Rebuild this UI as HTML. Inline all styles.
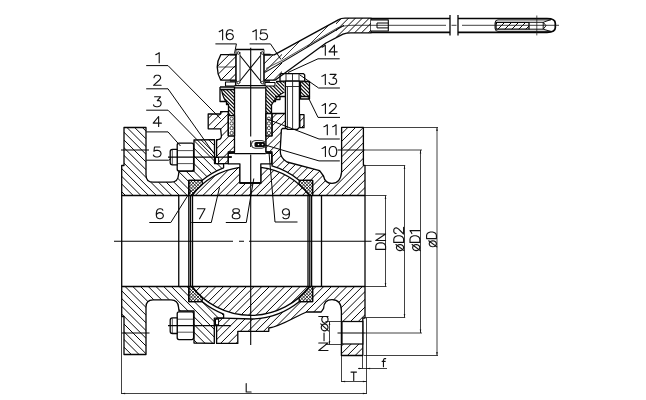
<!DOCTYPE html>
<html><head><meta charset="utf-8"><title>Ball valve</title>
<style>
html,body{margin:0;padding:0;background:#fff;}
body{width:646px;height:400px;overflow:hidden;font-family:"Liberation Sans",sans-serif;}
svg{display:block}
.o{fill:none;stroke:#050505;stroke-width:1.3;stroke-linejoin:round;stroke-linecap:butt}
.t{fill:none;stroke:#1a1a1a;stroke-width:0.75}
.d{fill:none;stroke:#111;stroke-width:0.8}
.w{fill:#fff;stroke:#050505;stroke-width:1.3;stroke-linejoin:round}
text{font-family:"Liberation Sans",sans-serif;fill:#1a1a1a;}
.lb{font-size:13px}
</style></head><body>
<svg width="646" height="400" viewBox="0 0 646 400">
<rect width="646" height="400" fill="#fff"/>

<clipPath id="c1"><path d="M121.7,195.5 L121.7,165.5 L124,165.5 L124,127.5 L146,127.5 L146,175 Q146,182.2 153,182.2 L171,182.2 Q178,182.2 178.5,175 L179,171 L194,171 L194,140 L214.5,139.6 L214.5,163.6 L223.6,163.6 L223.6,167.86 A78.0,78.0 0 0 0 202,180.4 L188.8,180.4 L188.8,195.5 Z"/></clipPath>
<path clip-path="url(#c1)" d="M45.76,123.5L121.76,199.5M53.48,123.5L129.48,199.5M61.2,123.5L137.2,199.5M68.92,123.5L144.92,199.5M76.64,123.5L152.64,199.5M84.36,123.5L160.36,199.5M92.08,123.5L168.08,199.5M99.8,123.5L175.8,199.5M107.52,123.5L183.52,199.5M115.24,123.5L191.24,199.5M122.96,123.5L198.96,199.5M130.68,123.5L206.68,199.5M138.4,123.5L214.4,199.5M146.12,123.5L222.12,199.5M153.84,123.5L229.84,199.5M161.56,123.5L237.56,199.5M169.28,123.5L245.28,199.5M177,123.5L253,199.5M184.72,123.5L260.72,199.5M192.44,123.5L268.44,199.5M200.16,123.5L276.16,199.5M207.88,123.5L283.88,199.5M215.6,123.5L291.6,199.5M223.32,123.5L299.32,199.5" fill="none" stroke="#0a0a0a" stroke-width="1.0"/>
<path class="o" d="M121.7,195.5 L121.7,165.5 L124,165.5 L124,127.5 L146,127.5 L146,175 Q146,182.2 153,182.2 L171,182.2 Q178,182.2 178.5,175 L179,171 L194,171 L194,140 L214.5,139.6 L214.5,163.6 L223.6,163.6 L223.6,167.86 A78.0,78.0 0 0 0 202,180.4 L188.8,180.4 L188.8,195.5 Z"/>
<clipPath id="c2"><path d="M121.7,286.5 L121.7,316.5 L124,316.5 L124,354.5 L146,354.5 L146,307 Q146,299.8 153,299.8 L171,299.8 Q178,299.8 178.5,307 L179,311 L194,311 L194,343 L214.3,343.4 L214.3,318.2 L223.6,318.2 L223.6,314.14 A78.0,78.0 0 0 1 202,301.6 L188.8,301.6 L188.8,286.5 Z"/></clipPath>
<path clip-path="url(#c2)" d="M43.9,282.5L119.9,358.5M51.62,282.5L127.62,358.5M59.34,282.5L135.34,358.5M67.06,282.5L143.06,358.5M74.78,282.5L150.78,358.5M82.5,282.5L158.5,358.5M90.22,282.5L166.22,358.5M97.94,282.5L173.94,358.5M105.66,282.5L181.66,358.5M113.38,282.5L189.38,358.5M121.1,282.5L197.1,358.5M128.82,282.5L204.82,358.5M136.54,282.5L212.54,358.5M144.26,282.5L220.26,358.5M151.98,282.5L227.98,358.5M159.7,282.5L235.7,358.5M167.42,282.5L243.42,358.5M175.14,282.5L251.14,358.5M182.86,282.5L258.86,358.5M190.58,282.5L266.58,358.5M198.3,282.5L274.3,358.5M206.02,282.5L282.02,358.5M213.74,282.5L289.74,358.5M221.46,282.5L297.46,358.5" fill="none" stroke="#0a0a0a" stroke-width="1.0"/>
<path class="o" d="M121.7,286.5 L121.7,316.5 L124,316.5 L124,354.5 L146,354.5 L146,307 Q146,299.8 153,299.8 L171,299.8 Q178,299.8 178.5,307 L179,311 L194,311 L194,343 L214.3,343.4 L214.3,318.2 L223.6,318.2 L223.6,314.14 A78.0,78.0 0 0 1 202,301.6 L188.8,301.6 L188.8,286.5 Z"/>
<clipPath id="c3"><path d="M188.8,180.4 L202,180.4 L202.5,184.32 A74.4,74.4 0 0 0 191.83,195.5 L188.8,195.5 Z"/></clipPath>
<path clip-path="url(#c3)" d="M186.6,176.4L163.5,199.5M189.9,176.4L166.8,199.5M193.2,176.4L170.1,199.5M196.5,176.4L173.4,199.5M199.8,176.4L176.7,199.5M203.1,176.4L180,199.5M206.4,176.4L183.3,199.5M209.7,176.4L186.6,199.5M213,176.4L189.9,199.5M216.3,176.4L193.2,199.5M219.6,176.4L196.5,199.5M222.9,176.4L199.8,199.5M226.2,176.4L203.1,199.5M229.5,176.4L206.4,199.5M163.2,176.4L186.3,199.5M166.5,176.4L189.6,199.5M169.8,176.4L192.9,199.5M173.1,176.4L196.2,199.5M176.4,176.4L199.5,199.5M179.7,176.4L202.8,199.5M183,176.4L206.1,199.5M186.3,176.4L209.4,199.5M189.6,176.4L212.7,199.5M192.9,176.4L216,199.5M196.2,176.4L219.3,199.5M199.5,176.4L222.6,199.5M202.8,176.4L225.9,199.5M206.1,176.4L229.2,199.5" fill="none" stroke="#0a0a0a" stroke-width="0.8"/>
<path class="o" d="M188.8,180.4 L202,180.4 L202.5,184.32 A74.4,74.4 0 0 0 191.83,195.5 L188.8,195.5 Z"/>
<clipPath id="c4"><path d="M188.8,301.6 L202,301.6 L202.5,297.68 A74.4,74.4 0 0 1 191.83,286.5 L188.8,286.5 Z"/></clipPath>
<path clip-path="url(#c4)" d="M186.1,282.5L163,305.6M189.4,282.5L166.3,305.6M192.7,282.5L169.6,305.6M196,282.5L172.9,305.6M199.3,282.5L176.2,305.6M202.6,282.5L179.5,305.6M205.9,282.5L182.8,305.6M209.2,282.5L186.1,305.6M212.5,282.5L189.4,305.6M215.8,282.5L192.7,305.6M219.1,282.5L196,305.6M222.4,282.5L199.3,305.6M225.7,282.5L202.6,305.6M229,282.5L205.9,305.6M163.7,282.5L186.8,305.6M167,282.5L190.1,305.6M170.3,282.5L193.4,305.6M173.6,282.5L196.7,305.6M176.9,282.5L200,305.6M180.2,282.5L203.3,305.6M183.5,282.5L206.6,305.6M186.8,282.5L209.9,305.6M190.1,282.5L213.2,305.6M193.4,282.5L216.5,305.6M196.7,282.5L219.8,305.6M200,282.5L223.1,305.6M203.3,282.5L226.4,305.6" fill="none" stroke="#0a0a0a" stroke-width="0.8"/>
<path class="o" d="M188.8,301.6 L202,301.6 L202.5,297.68 A74.4,74.4 0 0 1 191.83,286.5 L188.8,286.5 Z"/>
<clipPath id="c5"><path d="M312.6,180.4 L299.4,180.4 L298.9,184.32 A74.4,74.4 0 0 1 309.57,195.5 L312.6,195.5 Z"/></clipPath>
<path clip-path="url(#c5)" d="M295.5,176.4L272.4,199.5M298.8,176.4L275.7,199.5M302.1,176.4L279,199.5M305.4,176.4L282.3,199.5M308.7,176.4L285.6,199.5M312,176.4L288.9,199.5M315.3,176.4L292.2,199.5M318.6,176.4L295.5,199.5M321.9,176.4L298.8,199.5M325.2,176.4L302.1,199.5M328.5,176.4L305.4,199.5M331.8,176.4L308.7,199.5M335.1,176.4L312,199.5M338.4,176.4L315.3,199.5M272.1,176.4L295.2,199.5M275.4,176.4L298.5,199.5M278.7,176.4L301.8,199.5M282,176.4L305.1,199.5M285.3,176.4L308.4,199.5M288.6,176.4L311.7,199.5M291.9,176.4L315,199.5M295.2,176.4L318.3,199.5M298.5,176.4L321.6,199.5M301.8,176.4L324.9,199.5M305.1,176.4L328.2,199.5M308.4,176.4L331.5,199.5M311.7,176.4L334.8,199.5M315,176.4L338.1,199.5" fill="none" stroke="#0a0a0a" stroke-width="0.8"/>
<path class="o" d="M312.6,180.4 L299.4,180.4 L298.9,184.32 A74.4,74.4 0 0 1 309.57,195.5 L312.6,195.5 Z"/>
<clipPath id="c6"><path d="M312.6,301.6 L299.4,301.6 L298.9,297.68 A74.4,74.4 0 0 0 309.57,286.5 L312.6,286.5 Z"/></clipPath>
<path clip-path="url(#c6)" d="M295,282.5L271.9,305.6M298.3,282.5L275.2,305.6M301.6,282.5L278.5,305.6M304.9,282.5L281.8,305.6M308.2,282.5L285.1,305.6M311.5,282.5L288.4,305.6M314.8,282.5L291.7,305.6M318.1,282.5L295,305.6M321.4,282.5L298.3,305.6M324.7,282.5L301.6,305.6M328,282.5L304.9,305.6M331.3,282.5L308.2,305.6M334.6,282.5L311.5,305.6M337.9,282.5L314.8,305.6M272.6,282.5L295.7,305.6M275.9,282.5L299,305.6M279.2,282.5L302.3,305.6M282.5,282.5L305.6,305.6M285.8,282.5L308.9,305.6M289.1,282.5L312.2,305.6M292.4,282.5L315.5,305.6M295.7,282.5L318.8,305.6M299,282.5L322.1,305.6M302.3,282.5L325.4,305.6M305.6,282.5L328.7,305.6M308.9,282.5L332,305.6M312.2,282.5L335.3,305.6M315.5,282.5L338.6,305.6" fill="none" stroke="#0a0a0a" stroke-width="0.8"/>
<path class="o" d="M312.6,301.6 L299.4,301.6 L298.9,297.68 A74.4,74.4 0 0 0 309.57,286.5 L312.6,286.5 Z"/>
<clipPath id="c7"><path d="M191.83,195.5 A74.4,74.4 0 0 1 239.9,167.39 L239.9,183.1 L260.8,183.1 L260.8,167.29 A74.4,74.4 0 0 1 309.57,195.5 Z"/></clipPath>
<path clip-path="url(#c7)" d="M189.16,163.29L152.95,199.5M196.81,163.29L160.6,199.5M204.46,163.29L168.25,199.5M212.11,163.29L175.9,199.5M219.76,163.29L183.55,199.5M227.41,163.29L191.2,199.5M235.06,163.29L198.85,199.5M242.71,163.29L206.5,199.5M250.36,163.29L214.15,199.5M258.01,163.29L221.8,199.5M265.66,163.29L229.45,199.5M273.31,163.29L237.1,199.5M280.96,163.29L244.75,199.5M288.61,163.29L252.4,199.5M296.26,163.29L260.05,199.5M303.91,163.29L267.7,199.5M311.56,163.29L275.35,199.5M319.21,163.29L283,199.5M326.86,163.29L290.65,199.5M334.51,163.29L298.3,199.5M342.16,163.29L305.95,199.5" fill="none" stroke="#0a0a0a" stroke-width="1.0"/>
<path class="o" d="M191.83,195.5 A74.4,74.4 0 0 1 239.9,167.39 L239.9,183.1 L260.8,183.1 L260.8,167.29 A74.4,74.4 0 0 1 309.57,195.5 Z"/>
<clipPath id="c8"><path d="M191.83,286.5 A74.4,74.4 0 0 0 309.57,286.5 Z"/></clipPath>
<path clip-path="url(#c8)" d="M189.35,282.5L152.45,319.4M197,282.5L160.1,319.4M204.65,282.5L167.75,319.4M212.3,282.5L175.4,319.4M219.95,282.5L183.05,319.4M227.6,282.5L190.7,319.4M235.25,282.5L198.35,319.4M242.9,282.5L206,319.4M250.55,282.5L213.65,319.4M258.2,282.5L221.3,319.4M265.85,282.5L228.95,319.4M273.5,282.5L236.6,319.4M281.15,282.5L244.25,319.4M288.8,282.5L251.9,319.4M296.45,282.5L259.55,319.4M304.1,282.5L267.2,319.4M311.75,282.5L274.85,319.4M319.4,282.5L282.5,319.4M327.05,282.5L290.15,319.4M334.7,282.5L297.8,319.4M342.35,282.5L305.45,319.4M350,282.5L313.1,319.4" fill="none" stroke="#0a0a0a" stroke-width="1.0"/>
<path class="o" d="M191.83,286.5 A74.4,74.4 0 0 0 309.57,286.5 Z"/>
<clipPath id="c9"><path d="M208.2,114 L220.6,114 L220.6,111.7 L228.3,111.7 L228.3,136 L235,136 L235,152 L228.3,152 L228.3,163.6 L216.6,163.6 L216.6,139.6 L217.5,139.6 Q221.4,139.6 221.4,136 L220.6,128.8 L208.2,128.8 Z"/></clipPath>
<path clip-path="url(#c9)" d="M211.22,107.7L151.32,167.6M218.94,107.7L159.04,167.6M226.66,107.7L166.76,167.6M234.38,107.7L174.48,167.6M242.1,107.7L182.2,167.6M249.82,107.7L189.92,167.6M257.54,107.7L197.64,167.6M265.26,107.7L205.36,167.6M272.98,107.7L213.08,167.6M280.7,107.7L220.8,167.6M288.42,107.7L228.52,167.6M296.14,107.7L236.24,167.6" fill="none" stroke="#0a0a0a" stroke-width="1.0"/>
<path class="o" d="M208.2,114 L220.6,114 L220.6,111.7 L228.3,111.7 L228.3,136 L235,136 L235,152 L228.3,152 L228.3,163.6 L216.6,163.6 L216.6,139.6 L217.5,139.6 Q221.4,139.6 221.4,136 L220.6,128.8 L208.2,128.8 Z"/>
<clipPath id="c10"><path d="M272,113.5 L285.7,113.5 L285.7,128.5 L282.5,128.5 L281.4,129.6 L280.2,150 Q280,158 287,162 L319.6,170.6 L323.5,176 Q325,183.4 332,183.4 Q340.5,183.4 341.6,172 L341.6,127.3 L363.4,127.3 L363.4,165.3 L365,165.3 L365,195.5 L312.6,195.5 L312.6,180.4 L299.4,180.4 A78.0,78.0 0 0 0 272,165.96 L272,152 L265.7,152 L265.7,136 L272,136 Z"/></clipPath>
<path clip-path="url(#c10)" d="M265.46,109.5L175.46,199.5M273.18,109.5L183.18,199.5M280.9,109.5L190.9,199.5M288.62,109.5L198.62,199.5M296.34,109.5L206.34,199.5M304.06,109.5L214.06,199.5M311.78,109.5L221.78,199.5M319.5,109.5L229.5,199.5M327.22,109.5L237.22,199.5M334.94,109.5L244.94,199.5M342.66,109.5L252.66,199.5M350.38,109.5L260.38,199.5M358.1,109.5L268.1,199.5M365.82,109.5L275.82,199.5M373.54,109.5L283.54,199.5M381.26,109.5L291.26,199.5M388.98,109.5L298.98,199.5M396.7,109.5L306.7,199.5M404.42,109.5L314.42,199.5M412.14,109.5L322.14,199.5M419.86,109.5L329.86,199.5M427.58,109.5L337.58,199.5M435.3,109.5L345.3,199.5M443.02,109.5L353.02,199.5M450.74,109.5L360.74,199.5M458.46,109.5L368.46,199.5" fill="none" stroke="#0a0a0a" stroke-width="1.0"/>
<path class="o" d="M272,113.5 L285.7,113.5 L285.7,128.5 L282.5,128.5 L281.4,129.6 L280.2,150 Q280,158 287,162 L319.6,170.6 L323.5,176 Q325,183.4 332,183.4 Q340.5,183.4 341.6,172 L341.6,127.3 L363.4,127.3 L363.4,165.3 L365,165.3 L365,195.5 L312.6,195.5 L312.6,180.4 L299.4,180.4 A78.0,78.0 0 0 0 272,165.96 L272,152 L265.7,152 L265.7,136 L272,136 Z"/>
<clipPath id="c11"><path d="M299.8,114.7 L304,114.7 L304,127.7 L299.8,127.7 Z"/></clipPath>
<path clip-path="url(#c11)" d="M302.86,110.7L281.86,131.7M310.58,110.7L289.58,131.7M318.3,110.7L297.3,131.7M326.02,110.7L305.02,131.7" fill="none" stroke="#0a0a0a" stroke-width="1.0"/>
<path class="o" d="M299.8,114.7 L304,114.7 L304,127.7 L299.8,127.7 Z"/>
<clipPath id="c12"><path d="M216.6,343.4 L237.8,343.4 L237.8,331.3 L268.8,331.3 L268.8,328 C281,326.5 296,316 306.5,312 L321.2,312 L323.6,308.3 Q324,299.7 332,299.7 Q341.4,299.7 341.4,311 L341.4,355.5 L362.8,355.5 L362.8,318 L365,318 L365,286.5 L312.6,286.5 L312.6,301.6 L299.4,301.6 A78.0,78.0 0 0 1 252,318.99 L223.6,318.2 L216.6,318.2 Z"/></clipPath>
<path clip-path="url(#c12)" d="M219.7,282.5L142.7,359.5M227.42,282.5L150.42,359.5M235.14,282.5L158.14,359.5M242.86,282.5L165.86,359.5M250.58,282.5L173.58,359.5M258.3,282.5L181.3,359.5M266.02,282.5L189.02,359.5M273.74,282.5L196.74,359.5M281.46,282.5L204.46,359.5M289.18,282.5L212.18,359.5M296.9,282.5L219.9,359.5M304.62,282.5L227.62,359.5M312.34,282.5L235.34,359.5M320.06,282.5L243.06,359.5M327.78,282.5L250.78,359.5M335.5,282.5L258.5,359.5M343.22,282.5L266.22,359.5M350.94,282.5L273.94,359.5M358.66,282.5L281.66,359.5M366.38,282.5L289.38,359.5M374.1,282.5L297.1,359.5M381.82,282.5L304.82,359.5M389.54,282.5L312.54,359.5M397.26,282.5L320.26,359.5M404.98,282.5L327.98,359.5M412.7,282.5L335.7,359.5M420.42,282.5L343.42,359.5M428.14,282.5L351.14,359.5M435.86,282.5L358.86,359.5M443.58,282.5L366.58,359.5" fill="none" stroke="#0a0a0a" stroke-width="1.0"/>
<path class="o" d="M216.6,343.4 L237.8,343.4 L237.8,331.3 L268.8,331.3 L268.8,328 C281,326.5 296,316 306.5,312 L321.2,312 L323.6,308.3 Q324,299.7 332,299.7 Q341.4,299.7 341.4,311 L341.4,355.5 L362.8,355.5 L362.8,318 L365,318 L365,286.5 L312.6,286.5 L312.6,301.6 L299.4,301.6 A78.0,78.0 0 0 1 252,318.99 L223.6,318.2 L216.6,318.2 Z"/>
<rect x="342" y="321.5" width="20.8" height="22.5" fill="#fff" stroke="#0a0a0a" stroke-width="1.25"/>
<rect x="215.5" y="319.2" width="3.1" height="5.6" fill="#fff" stroke="#050505" stroke-width="1"/>
<rect x="215.5" y="157.5" width="3.1" height="6" fill="#fff" stroke="#050505" stroke-width="1"/>
<line class="o" x1="178.75" y1="195.5" x2="178.75" y2="286.5"/>
<line class="o" x1="188.8" y1="195.5" x2="188.8" y2="286.5"/>
<line class="o" x1="190.5" y1="195.5" x2="190.5" y2="286.5"/>
<line class="o" x1="192.5" y1="195.5" x2="192.5" y2="286.5"/>
<line class="o" x1="308" y1="195.5" x2="308" y2="286.5"/>
<line class="o" x1="309.8" y1="195.5" x2="309.8" y2="286.5"/>
<line class="o" x1="311.6" y1="195.5" x2="311.6" y2="286.5"/>
<line class="o" x1="321.5" y1="195.5" x2="321.5" y2="286.5"/>
<line class="o" x1="121.7" y1="195.5" x2="121.7" y2="286.5"/>
<line class="o" x1="365" y1="195.5" x2="365" y2="286.5"/>
<path class="w" d="M225.5,82 H235.5 V86 H225.5 Z M265,82.5 H275 V86 H265 Z" style="stroke-width:1.1"/>
<path d="M236,49.5 L264,49.5 L264,86 L265.8,87 L265.8,152 L271.7,153.7 L271.7,163.8 L260.8,163.8 L260.8,183.1 L239.9,183.1 L239.9,163.8 L228.3,163.8 L228.3,153.7 L234.5,152 L234.5,87 L236,86 Z" fill="#fff"/>
<path class="o" d="M236,49.5 H264 M234.5,87 V152 L228.3,153.7 V163.8 H239.9 V183.1 H260.8 V163.8 H271.7 V153.7 L265.8,152 V87"/>
<path class="t" d="M236,49.5 V86 M264,49.5 V86 M240,52 V83 M260.6,52 V83" style="stroke-width:0.85"/>
<rect x="228.6" y="151.4" width="6.4" height="2.5" fill="#0a0a0a"/>
<rect x="265.7" y="151.4" width="6.4" height="2.5" fill="#0a0a0a"/>
<path class="o" d="M240,55.5 L260.6,81 M260.6,55.5 L240,81" style="stroke-width:1.1"/>
<rect x="240" y="182" width="20.8" height="1.8" fill="#0a0a0a"/>
<path class="o" d="M228.3,157 H232 M234.5,153.7 H265.8"/>
<path class="o" d="M234.5,85.7 H265.8 M234.5,87.9 H265.8" style="stroke-width:1.2"/>
<rect x="251.5" y="140.6" width="14" height="7.6" rx="3.5" fill="#fff" stroke="#0a0a0a" stroke-width="0.9"/>
<rect x="254.5" y="142" width="10.5" height="5" rx="1.5" fill="#0a0a0a"/>
<circle cx="258.5" cy="144.5" r="0.8" fill="#fff"/><circle cx="262.5" cy="144.5" r="0.8" fill="#fff"/>
<clipPath id="c13"><path d="M221.5,89.5 L234.5,89.5 L234.5,115.6 L228.5,115.6 L228.5,105 Q223,99 221.5,89.5 Z"/></clipPath>
<path clip-path="url(#c13)" d="M186.3,85.5L220.4,119.6M189.9,85.5L224,119.6M193.5,85.5L227.6,119.6M197.1,85.5L231.2,119.6M200.7,85.5L234.8,119.6M204.3,85.5L238.4,119.6M207.9,85.5L242,119.6M211.5,85.5L245.6,119.6M215.1,85.5L249.2,119.6M218.7,85.5L252.8,119.6M222.3,85.5L256.4,119.6M225.9,85.5L260,119.6M229.5,85.5L263.6,119.6M233.1,85.5L267.2,119.6M236.7,85.5L270.8,119.6" fill="none" stroke="#0a0a0a" stroke-width="1.15"/>
<path class="o" d="M220,87 H234.5 M220,87 V101.5 H226.5 V104.5 H228.5 V115.6 H234.5 M220,89.5 H234.5 M221.5,89.5 Q223,99 228.5,105"/>
<clipPath id="c14"><path d="M265.8,86 L276,86 L276,81.5 L284.5,81.5 L284.5,92 Q276,96 271.5,105 L271.5,113.5 L265.8,113.5 Z"/></clipPath>
<path clip-path="url(#c14)" d="M225.1,77.5L265.1,117.5M228.7,77.5L268.7,117.5M232.3,77.5L272.3,117.5M235.9,77.5L275.9,117.5M239.5,77.5L279.5,117.5M243.1,77.5L283.1,117.5M246.7,77.5L286.7,117.5M250.3,77.5L290.3,117.5M253.9,77.5L293.9,117.5M257.5,77.5L297.5,117.5M261.1,77.5L301.1,117.5M264.7,77.5L304.7,117.5M268.3,77.5L308.3,117.5M271.9,77.5L311.9,117.5M275.5,77.5L315.5,117.5M279.1,77.5L319.1,117.5M282.7,77.5L322.7,117.5M286.3,77.5L326.3,117.5" fill="none" stroke="#0a0a0a" stroke-width="1.15"/>
<path class="o" d="M276,81.5 H284.5 M271.5,113.5 V105 Q276,96 284.5,92 M265.8,113.5 H271.5 M275,96.5 H285 M280,96.5 V99.5 H275.5 V101.5 H273"/>
<clipPath id="c15"><path d="M300.5,81.5 L309.5,81.5 L309.5,96.5 L300.5,96.5 Z"/></clipPath>
<path clip-path="url(#c15)" d="M275.5,77.5L298.5,100.5M279.1,77.5L302.1,100.5M282.7,77.5L305.7,100.5M286.3,77.5L309.3,100.5M289.9,77.5L312.9,100.5M293.5,77.5L316.5,100.5M297.1,77.5L320.1,100.5M300.7,77.5L323.7,100.5M304.3,77.5L327.3,100.5M307.9,77.5L330.9,100.5M311.5,77.5L334.5,100.5" fill="none" stroke="#0a0a0a" stroke-width="1.15"/>
<path class="o" d="M300.5,81.5 L309.5,81.5 L309.5,96.5 L300.5,96.5 Z"/>
<path class="o" d="M300.5,96.5 V99 H309.5 V96.5"/>
<circle cx="231.6" cy="118.7" r="1.65" fill="#fff" stroke="#0a0a0a" stroke-width="0.75"/>
<circle cx="268.9" cy="118.7" r="1.65" fill="#fff" stroke="#0a0a0a" stroke-width="0.75"/>
<circle cx="231.6" cy="123.4" r="1.65" fill="#fff" stroke="#0a0a0a" stroke-width="0.75"/>
<circle cx="268.9" cy="123.4" r="1.65" fill="#fff" stroke="#0a0a0a" stroke-width="0.75"/>
<circle cx="231.6" cy="128.1" r="1.65" fill="#fff" stroke="#0a0a0a" stroke-width="0.75"/>
<circle cx="268.9" cy="128.1" r="1.65" fill="#fff" stroke="#0a0a0a" stroke-width="0.75"/>
<circle cx="231.6" cy="133.0" r="1.65" fill="#fff" stroke="#0a0a0a" stroke-width="0.75"/>
<circle cx="268.9" cy="133.0" r="1.65" fill="#fff" stroke="#0a0a0a" stroke-width="0.75"/>
<path class="o" d="M228.3,115.6 V136 M234.5,115.6 V136 M265.8,113.5 V136 M272,113.5 V136"/>
<path class="w" d="M281,73.6 L303.5,73.6 L304.7,75 L304.7,81.2 L280,81.2 L280,75 Z"/>
<path class="w" d="M285.4,81.2 L299.4,81.2 L299.4,127.4 L297.6,129.3 L287.2,129.3 L285.4,127.4 Z"/>
<path class="t" d="M286,73.6 V81.2 M292.5,73.6 V81.2 M299,73.6 V81.2 M287.4,86.5 V128.5 M292.6,81.2 V128.5 M285.4,86.5 H299.4" style="stroke-width:0.9"/>
<path class="w" d="M179,143.2 L191.8,143.2 Q193.6,143.2 193.6,145.2 L193.6,169 Q193.6,171 191.8,171 L179,171 Q177.2,171 177.2,169 L177.2,145.2 Q177.2,143.2 179,143.2 Z"/>
<path class="t" d="M177.2,150.6 H193.6 M177.2,163.6 H193.6"/>
<path class="w" d="M177.2,149.3 L172.5,149.3 Q170.2,149.3 170.2,151.6 L170.2,162.6 Q170.2,164.9 172.5,164.9 L177.2,164.9 Z"/>
<path class="t" d="M172.3,149.6 V164.6"/>
<path class="o" d="M168,157.1 H231"/>
<path class="w" d="M179,311.8 L191.8,311.8 Q193.6,311.8 193.6,313.8 L193.6,337.6 Q193.6,339.6 191.8,339.6 L179,339.6 Q177.2,339.6 177.2,337.6 L177.2,313.8 Q177.2,311.8 179,311.8 Z"/>
<path class="t" d="M177.2,319.2 H193.6 M177.2,332.2 H193.6"/>
<path class="w" d="M177.2,317.9 L172.5,317.9 Q170.2,317.9 170.2,320.2 L170.2,331.2 Q170.2,333.5 172.5,333.5 L177.2,333.5 Z"/>
<path class="t" d="M172.3,318.2 V333.2"/>
<path class="o" d="M168,325.7 H231"/>
<clipPath id="c16"><path d="M235.9,54.6 L220.8,54.6 Q213.6,67 220.8,80.2 L235.9,80.2 Z"/></clipPath>
<path clip-path="url(#c16)" d="M216,50.6L182.4,84.2M224.6,50.6L191,84.2M233.2,50.6L199.6,84.2M241.8,50.6L208.2,84.2M250.4,50.6L216.8,84.2M259,50.6L225.4,84.2M267.6,50.6L234,84.2" fill="none" stroke="#0a0a0a" stroke-width="1.0"/>
<path class="o" d="M235.9,54.6 L220.8,54.6 Q213.6,67 220.8,80.2 L235.9,80.2 Z"/>
<clipPath id="c17"><path d="M264,54.6 L274.2,54.9 L282,50.5 L282,75 L275,80.2 L264,80.2 Z"/></clipPath>
<path clip-path="url(#c17)" d="M264.1,46.5L226.4,84.2M272.7,46.5L235,84.2M281.3,46.5L243.6,84.2M289.9,46.5L252.2,84.2M298.5,46.5L260.8,84.2M307.1,46.5L269.4,84.2M315.7,46.5L278,84.2" fill="none" stroke="#0a0a0a" stroke-width="1.0"/>
<clipPath id="c18"><path d="M336,21 L338.7,19.6 Q341,18.1 345,18.1 L371,18.1 L371,32.8 L351,32.8 Q346.5,32.8 343,34.2 L336,37.8 Z"/></clipPath>
<path clip-path="url(#c18)" d="M338.8,14.1L311.1,41.8M345.7,14.1L318,41.8M352.6,14.1L324.9,41.8M359.5,14.1L331.8,41.8M366.4,14.1L338.7,41.8M373.3,14.1L345.6,41.8M380.2,14.1L352.5,41.8M387.1,14.1L359.4,41.8M394,14.1L366.3,41.8M400.9,14.1L373.2,41.8" fill="none" stroke="#0a0a0a" stroke-width="1.0"/>
<clipPath id="c19"><path d="M282,50.5 L336,21 L336,30.1 L282,62.3 Z"/></clipPath>
<path clip-path="url(#c19)" d="M285,17L235.7,66.3M298,17L248.7,66.3M311,17L261.7,66.3M324,17L274.7,66.3M337,17L287.7,66.3M350,17L300.7,66.3M363,17L313.7,66.3M376,17L326.7,66.3M389,17L339.7,66.3" fill="none" stroke="#0a0a0a" stroke-width="0.8"/>
<path class="o" d="M264,54.6 L274.2,54.9 L338.7,19.6 Q341,18.1 345,18.1 L371,18.1 L371,32.8 L351,32.8 Q346.5,32.8 343,34.2 L326,43 L275,80.2 L264,80.2 Z"/>
<path class="o" d="M265,72.4 L344,25.3" style="stroke-width:1.05"/>
<path class="w" d="M371,19.9 H388.3 V31 H371" style="stroke-width:1.1"/>
<path class="o" d="M377,23 H388.3 M377,27.9 H388.3 M377,23 V27.9" style="stroke-width:1.0"/>
<path class="o" d="M371,18.5 H450 M371,32.3 H450 M458,18.5 H547 Q555.3,18.5 555.3,23.2 V27.8 Q555.3,32.3 547,32.3 H458" style="stroke-width:1.7"/>
<path class="o" d="M450,15 V35.5 M458,15 V35.5"/>
<clipPath id="c20"><path d="M496,22.3 L529,22.3 L529,29.2 L496,29.2 Z"/></clipPath>
<path clip-path="url(#c20)" d="M494.7,18.3L479.8,33.2M501.7,18.3L486.8,33.2M508.7,18.3L493.8,33.2M515.7,18.3L500.8,33.2M522.7,18.3L507.8,33.2M529.7,18.3L514.8,33.2M536.7,18.3L521.8,33.2M543.7,18.3L528.8,33.2" fill="none" stroke="#0a0a0a" stroke-width="1.0"/>
<path class="o" d="M496,22.3 L529,22.3 L529,29.2 L496,29.2 Z"/>
<path class="o" d="M529,22.3 H543.2 M529,29.2 H543.2 M543.2,22.3 V29.2 M543.2,22.3 L550.7,19.6 M543.2,29.2 L550.7,31.4 M543.2,22.3 L546,25.7 L543.2,29.2" style="stroke-width:0.95"/>
<path class="o" d="M551,19.9 H498 Q495,19.9 495,23 V28.2 Q495,31.3 498,31.3 H551" style="stroke-width:0.9"/>
<path class="t" d="M536.8,15.5 V35.4"/>
<path class="t" d="M266,68.5 L283,60 L338,27.6 Q345,25.3 352,25.3 M218,67 H236"/>
<path class="d" d="M352,25.3 H446 M451.5,25.3 H456.5 M462,25.3 H559"/>
<path d="M229.5,54.6 H237 M263.5,54.6 H270.5 M230,81 H237 M263.5,81 H270" stroke="#0a0a0a" stroke-width="1.7" fill="none"/>
<circle cx="238.3" cy="53" r="1.3" fill="#fff" stroke="#0a0a0a" stroke-width="0.9"/>
<circle cx="262.3" cy="53" r="1.3" fill="#fff" stroke="#0a0a0a" stroke-width="0.9"/>
<circle cx="238.3" cy="82.6" r="1.3" fill="#fff" stroke="#0a0a0a" stroke-width="0.9"/>
<circle cx="262.3" cy="82.6" r="1.3" fill="#fff" stroke="#0a0a0a" stroke-width="0.9"/>
<path class="o" d="M114,241.2 H233 M239,241.2 H244 M249,241.2 H371.5" style="stroke-width:1.1"/>
<path class="o" d="M250.7,47.8 V136.6 M250.7,140.5 V147 M250.7,154.5 V345" style="stroke-width:1.1"/>
<path class="o" d="M121,150 H149 M121.5,333 H149.5 M337.5,333 H365 M337.5,150 H365" style="stroke-width:1.1"/>
<path class="d" d="M363.4,127.5 H438 M437,127.5 V355.5 M364,355.5 H438 M420.5,150 V333 M365,150 H422 M365,333 H422 M363.6,165.5 H405.2 M404.5,165.5 V317.5 M365,317.5 H405.2 M365,195.5 H386.5 M385.5,195.5 V286.5 M365,286.5 H386.5 M121.5,286.5 V394 M366.5,318 V394 M121.5,393.5 H366.5 M341.5,355.8 V382 M341.5,381.5 H366.5 M362.5,355.8 V368.5 M358,368.5 H387 M342,321.5 H325.4 M342,344.5 H325.4 M329.5,321.5 V344.5"/>
<path d="M437,127.5L436.25,131.1L437.75,131.1Z" fill="#111"/>
<path d="M437,355.5L436.25,351.9L437.75,351.9Z" fill="#111"/>
<path d="M420.5,150L419.75,153.6L421.25,153.6Z" fill="#111"/>
<path d="M420.5,333L419.75,329.4L421.25,329.4Z" fill="#111"/>
<path d="M404.5,165.5L403.75,169.1L405.25,169.1Z" fill="#111"/>
<path d="M404.5,317.5L403.75,313.9L405.25,313.9Z" fill="#111"/>
<path d="M385.5,195.5L384.75,199.1L386.25,199.1Z" fill="#111"/>
<path d="M385.5,286.5L384.75,282.9L386.25,282.9Z" fill="#111"/>
<path d="M329.5,321.5L328.75,325.1L330.25,325.1Z" fill="#111"/>
<path d="M329.5,344.5L328.75,340.9L330.25,340.9Z" fill="#111"/>
<path d="M121.5,393.5L125.1,392.75L125.1,394.25Z" fill="#111"/>
<path d="M366.5,393.5L362.9,392.75L362.9,394.25Z" fill="#111"/>
<path d="M341.5,381.5L345.1,380.75L345.1,382.25Z" fill="#111"/>
<path d="M366.5,381.5L362.9,380.75L362.9,382.25Z" fill="#111"/>
<path d="M362.5,368.5L358.9,367.75L358.9,369.25Z" fill="#111"/>
<path d="M366.5,368.5L370.1,367.75L370.1,369.25Z" fill="#111"/>
<path d="M246.2,383.6L246.2,392M246.2,392L251.12,392" fill="none" stroke="#101010" stroke-width="1.12" stroke-linecap="round" stroke-linejoin="round"/>
<path d="M353.73,372.1L353.73,380.5M351,372.1L356.46,372.1" fill="none" stroke="#101010" stroke-width="1.12" stroke-linecap="round" stroke-linejoin="round"/>
<path d="M385.7,358.61L384.8,358.61L383.9,359L383.45,360.17L383.45,366.8M382.1,361.34L385.25,361.34" fill="none" stroke="#101010" stroke-width="1.12" stroke-linecap="round" stroke-linejoin="round"/>
<path transform="translate(385.6,249.4) rotate(-90)" d="M0,-9.81L0,0M0,-9.81L3.29,-9.81L4.7,-9.34L5.64,-8.41L6.11,-7.47L6.58,-6.07L6.58,-3.74L6.11,-2.33L5.64,-1.4L4.7,-0.47L3.29,0L0,0M8.88,-9.81L8.88,0M8.88,-9.81L15.46,0M15.46,-9.81L15.46,0" fill="none" stroke="#101010" stroke-width="1.12" stroke-linecap="round" stroke-linejoin="round"/>
<path transform="translate(403.6,250.6) rotate(-90)" d="M6.02,-3.6L5.79,-4.97L5.13,-6.14L4.16,-6.92L3.01,-7.19L1.86,-6.92L0.88,-6.14L0.23,-4.97L-0,-3.6L0.23,-2.22L0.88,-1.05L1.86,-0.27L3.01,0L4.16,-0.27L5.13,-1.05L5.79,-2.22L6.02,-3.6M-0.05,0.47L6.06,-7.71M8.22,-9.81L8.22,0M8.22,-9.81L11.51,-9.81L12.92,-9.34L13.86,-8.41L14.33,-7.47L14.8,-6.07L14.8,-3.74L14.33,-2.33L13.86,-1.4L12.92,-0.47L11.51,0L8.22,0M17.07,-7.47L17.07,-7.94L17.54,-8.87L18.01,-9.34L18.95,-9.81L20.83,-9.81L21.77,-9.34L22.24,-8.87L22.71,-7.94L22.71,-7.01L22.24,-6.07L21.3,-4.67L16.6,0L23.18,0" fill="none" stroke="#101010" stroke-width="1.12" stroke-linecap="round" stroke-linejoin="round"/>
<path transform="translate(419.8,250.6) rotate(-90)" d="M6.02,-3.6L5.79,-4.97L5.13,-6.14L4.16,-6.92L3.01,-7.19L1.86,-6.92L0.88,-6.14L0.23,-4.97L-0,-3.6L0.23,-2.22L0.88,-1.05L1.86,-0.27L3.01,0L4.16,-0.27L5.13,-1.05L5.79,-2.22L6.02,-3.6M-0.05,0.47L6.06,-7.71M8.22,-9.81L8.22,0M8.22,-9.81L11.51,-9.81L12.92,-9.34L13.86,-8.41L14.33,-7.47L14.8,-6.07L14.8,-3.74L14.33,-2.33L13.86,-1.4L12.92,-0.47L11.51,0L8.22,0M17,-7.94L18.08,-8.41L19.96,-9.81L19.96,0" fill="none" stroke="#101010" stroke-width="1.12" stroke-linecap="round" stroke-linejoin="round"/>
<path transform="translate(436.4,246.8) rotate(-90)" d="M6.02,-3.6L5.79,-4.97L5.13,-6.14L4.16,-6.92L3.01,-7.19L1.86,-6.92L0.88,-6.14L0.23,-4.97L-0,-3.6L0.23,-2.22L0.88,-1.05L1.86,-0.27L3.01,0L4.16,-0.27L5.13,-1.05L5.79,-2.22L6.02,-3.6M-0.05,0.47L6.06,-7.71M8.22,-9.81L8.22,0M8.22,-9.81L11.51,-9.81L12.92,-9.34L13.86,-8.41L14.33,-7.47L14.8,-6.07L14.8,-3.74L14.33,-2.33L13.86,-1.4L12.92,-0.47L11.51,0L8.22,0" fill="none" stroke="#101010" stroke-width="1.12" stroke-linecap="round" stroke-linejoin="round"/>
<path transform="translate(328,350.5) rotate(-90)" d="M0,-9.24L0,0M0,-9.24L7.56,0M7.56,-9.24L7.56,0M9.76,-3.96L17.32,-3.96M26.53,-3.39L26.27,-4.68L25.52,-5.78L24.4,-6.52L23.08,-6.78L21.75,-6.52L20.63,-5.78L19.88,-4.68L19.62,-3.39L19.88,-2.09L20.63,-0.99L21.75,-0.26L23.08,0L24.4,-0.26L25.52,-0.99L26.27,-2.09L26.53,-3.39M19.57,0.44L26.59,-7.26M34.01,-9.24L34.01,0M34.01,-4.84L32.93,-5.72L31.85,-6.16L30.23,-6.16L29.15,-5.72L28.07,-4.84L27.53,-3.52L27.53,-2.64L28.07,-1.32L29.15,-0.44L30.23,0L31.85,0L32.93,-0.44L34.01,-1.32" fill="none" stroke="#101010" stroke-width="1.12" stroke-linecap="round" stroke-linejoin="round"/>
<path d="M155.8,54.61L157.05,54.13L159.22,52.7L159.22,62.7" fill="none" stroke="#101010" stroke-width="1.12" stroke-linecap="round" stroke-linejoin="round"/>
<path class="o" d="M146.2,65.6 H168 L220.6,118.7" style="stroke-width:1"/>
<path d="M154.04,77.68L154.04,77.21L154.59,76.26L155.13,75.78L156.22,75.3L158.39,75.3L159.47,75.78L160.02,76.26L160.56,77.21L160.56,78.16L160.02,79.11L158.93,80.54L153.5,85.3L161.1,85.3" fill="none" stroke="#101010" stroke-width="1.12" stroke-linecap="round" stroke-linejoin="round"/>
<path class="o" d="M146.2,88.8 H168 L215,155" style="stroke-width:1"/>
<path d="M154.59,96.8L160.56,96.8L157.3,100.61L158.93,100.61L160.02,101.09L160.56,101.56L161.1,102.99L161.1,103.94L160.56,105.37L159.47,106.32L157.84,106.8L156.22,106.8L154.59,106.32L154.04,105.85L153.5,104.9" fill="none" stroke="#101010" stroke-width="1.12" stroke-linecap="round" stroke-linejoin="round"/>
<path class="o" d="M146.2,110.2 H168 L214,157" style="stroke-width:1"/>
<path d="M158.63,116.5L153.2,123.17L161.34,123.17M158.63,116.5L158.63,126.5" fill="none" stroke="#101010" stroke-width="1.12" stroke-linecap="round" stroke-linejoin="round"/>
<path class="o" d="M146.2,131.9 H168 L180.5,146" style="stroke-width:1"/>
<path d="M159.92,147L154.49,147L153.94,151.29L154.49,150.81L156.12,150.34L157.74,150.34L159.37,150.81L160.46,151.76L161,153.19L161,154.14L160.46,155.57L159.37,156.52L157.74,157L156.12,157L154.49,156.52L153.94,156.05L153.4,155.1" fill="none" stroke="#101010" stroke-width="1.12" stroke-linecap="round" stroke-linejoin="round"/>
<path class="o" d="M146.2,160.2 H168.7 L171,158.7" style="stroke-width:1"/>
<path d="M162.82,210.23L162.27,209.28L160.64,208.8L159.56,208.8L157.93,209.28L156.84,210.71L156.3,213.09L156.3,215.47L156.84,217.37L157.93,218.32L159.56,218.8L160.1,218.8L161.73,218.32L162.82,217.37L163.36,215.94L163.36,215.47L162.82,214.04L161.73,213.09L160.1,212.61L159.56,212.61L157.93,213.09L156.84,214.04L156.3,215.47" fill="none" stroke="#101010" stroke-width="1.12" stroke-linecap="round" stroke-linejoin="round"/>
<path class="o" d="M149.3,222.5 H170.8 L191.3,190" style="stroke-width:1"/>
<path d="M205,208.8L199.57,218.8M197.4,208.8L205,208.8" fill="none" stroke="#101010" stroke-width="1.12" stroke-linecap="round" stroke-linejoin="round"/>
<path class="o" d="M191.3,222.5 H211.3 L219.5,187.5" style="stroke-width:1"/>
<path d="M235.02,208.8L233.39,209.28L232.84,210.23L232.84,211.18L233.39,212.14L234.47,212.61L236.64,213.09L238.27,213.56L239.36,214.52L239.9,215.47L239.9,216.9L239.36,217.85L238.82,218.32L237.19,218.8L235.02,218.8L233.39,218.32L232.84,217.85L232.3,216.9L232.3,215.47L232.84,214.52L233.93,213.56L235.56,213.09L237.73,212.61L238.82,212.14L239.36,211.18L239.36,210.23L238.82,209.28L237.19,208.8L235.02,208.8" fill="none" stroke="#101010" stroke-width="1.12" stroke-linecap="round" stroke-linejoin="round"/>
<path class="o" d="M225.8,222.5 H246.3 L253.8,178.5" style="stroke-width:1"/>
<path d="M289.46,212.14L288.92,213.56L287.83,214.52L286.2,214.99L285.66,214.99L284.03,214.52L282.94,213.56L282.4,212.14L282.4,211.66L282.94,210.23L284.03,209.28L285.66,208.8L286.2,208.8L287.83,209.28L288.92,210.23L289.46,212.14L289.46,214.52L288.92,216.9L287.83,218.32L286.2,218.8L285.11,218.8L283.49,218.32L282.94,217.37" fill="none" stroke="#101010" stroke-width="1.12" stroke-linecap="round" stroke-linejoin="round"/>
<path class="o" d="M297.5,222 H275 L269,152.5" style="stroke-width:1"/>
<path d="M322,148.41L323.25,147.93L325.42,146.5L325.42,156.5M332.38,146.5L330.75,146.98L329.66,148.41L329.12,150.79L329.12,152.22L329.66,154.6L330.75,156.02L332.38,156.5L333.46,156.5L335.09,156.02L336.18,154.6L336.72,152.22L336.72,150.79L336.18,148.41L335.09,146.98L333.46,146.5L332.38,146.5" fill="none" stroke="#101010" stroke-width="1.12" stroke-linecap="round" stroke-linejoin="round"/>
<path class="o" d="M339.8,160.9 H319 L264.7,144.9" style="stroke-width:1"/>
<path d="M323.9,126.71L325.15,126.23L327.32,124.8L327.32,134.8M332.62,126.71L333.87,126.23L336.04,124.8L336.04,134.8" fill="none" stroke="#101010" stroke-width="1.12" stroke-linecap="round" stroke-linejoin="round"/>
<path class="o" d="M339.8,139 H319 L267.8,119.3" style="stroke-width:1"/>
<path d="M322,105.41L323.25,104.93L325.42,103.5L325.42,113.5M329.66,105.88L329.66,105.41L330.21,104.46L330.75,103.98L331.84,103.5L334.01,103.5L335.09,103.98L335.64,104.46L336.18,105.41L336.18,106.36L335.64,107.31L334.55,108.74L329.12,113.5L336.72,113.5" fill="none" stroke="#101010" stroke-width="1.12" stroke-linecap="round" stroke-linejoin="round"/>
<path class="o" d="M340,117.4 H318 L308,97" style="stroke-width:1"/>
<path d="M321.9,76.31L323.15,75.83L325.32,74.4L325.32,84.4M330.11,74.4L336.08,74.4L332.82,78.21L334.45,78.21L335.54,78.69L336.08,79.16L336.62,80.59L336.62,81.54L336.08,82.97L334.99,83.92L333.36,84.4L331.74,84.4L330.11,83.92L329.56,83.45L329.02,82.5" fill="none" stroke="#101010" stroke-width="1.12" stroke-linecap="round" stroke-linejoin="round"/>
<path class="o" d="M339.9,88 H318.6 L299.5,74.7" style="stroke-width:1"/>
<path d="M321.9,47.11L323.15,46.63L325.32,45.2L325.32,55.2M334.45,45.2L329.02,51.87L337.17,51.87M334.45,45.2L334.45,55.2" fill="none" stroke="#101010" stroke-width="1.12" stroke-linecap="round" stroke-linejoin="round"/>
<path class="o" d="M339.7,58.8 H318 L288,72.5" style="stroke-width:1"/>
<path d="M252.8,31.61L254.05,31.13L256.22,29.7L256.22,39.7M266.44,29.7L261.01,29.7L260.46,33.99L261.01,33.51L262.64,33.04L264.26,33.04L265.89,33.51L266.98,34.46L267.52,35.89L267.52,36.84L266.98,38.27L265.89,39.22L264.26,39.7L262.64,39.7L261.01,39.22L260.46,38.75L259.92,37.8" fill="none" stroke="#101010" stroke-width="1.12" stroke-linecap="round" stroke-linejoin="round"/>
<path class="o" d="M249.6,43.9 H270.5 L281,59.5" style="stroke-width:1"/>
<path d="M219.2,31.61L220.45,31.13L222.62,29.7L222.62,39.7M232.84,31.13L232.29,30.18L230.66,29.7L229.58,29.7L227.95,30.18L226.86,31.61L226.32,33.99L226.32,36.37L226.86,38.27L227.95,39.22L229.58,39.7L230.12,39.7L231.75,39.22L232.84,38.27L233.38,36.84L233.38,36.37L232.84,34.94L231.75,33.99L230.12,33.51L229.58,33.51L227.95,33.99L226.86,34.94L226.32,36.37" fill="none" stroke="#101010" stroke-width="1.12" stroke-linecap="round" stroke-linejoin="round"/>
<path class="o" d="M215.4,43.9 H236.4 L234.5,53.5" style="stroke-width:1"/>
</svg></body></html>
